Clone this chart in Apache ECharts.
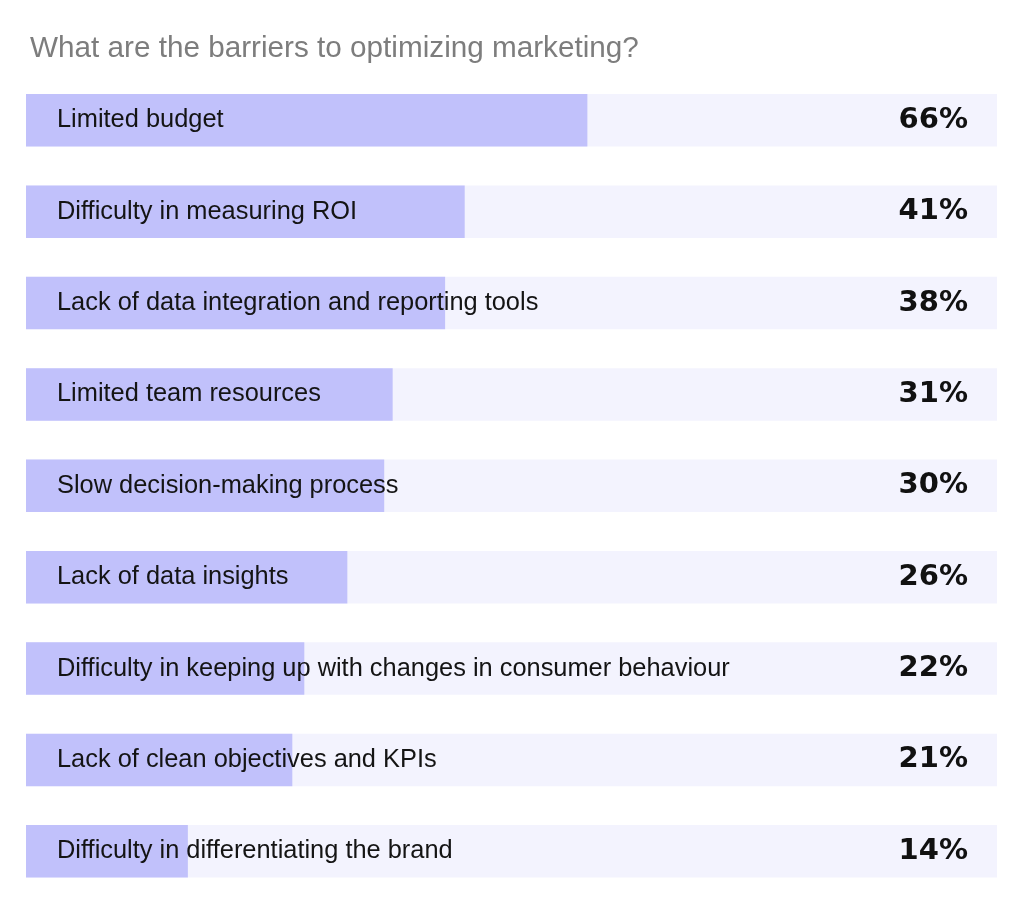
<!DOCTYPE html>
<html>
<head>
<meta charset="utf-8">
<script src="https://cdn.jsdelivr.net/npm/echarts@6/dist/echarts.min.js"></script>
<style>html,body{margin:0;padding:0;background:#fff;}#c{width:1023px;height:911px;}</style>
</head>
<body>
<div id="c"></div>
<script>
const titleText = 'What are the barriers to optimizing marketing?';
const categories = [
  'Limited budget',
  'Difficulty in measuring ROI',
  'Lack of data integration and reporting tools',
  'Limited team resources',
  'Slow decision-making process',
  'Lack of data insights',
  'Difficulty in keeping up with changes in consumer behaviour',
  'Lack of clean objectives and KPIs',
  'Difficulty in differentiating the brand'
];
const values = [66, 41, 38, 31, 30, 26, 22, 21, 14];
const valueLabels = values.map(v => v + '%');

const chart = echarts.init(document.getElementById('c'), null, {renderer: 'canvas'});
chart.setOption({
  animation: false,
  backgroundColor: '#ffffff',
  title: {
    text: titleText,
    left: 25,
    top: 29,
    textStyle: {fontFamily: 'Liberation Sans', fontSize: 29.7, fontWeight: 'normal', color: '#7d7d7d'}
  },
  grid: {left: 26, right: 26, top: 74.6, bottom: 14, containLabel: false},
  xAxis: {
    type: 'log',
    logBase: 10,
    min: 7.47,
    max: 323.6,
    show: false
  },
  yAxis: [
    {
      type: 'category',
      data: categories,
      inverse: true,
      z: 10,
      axisLine: {show: false},
      axisTick: {show: false},
      splitLine: {show: false},
      axisLabel: {
        inside: true,
        margin: 31,
        fontFamily: 'Liberation Sans',
        fontSize: 25.4,
        color: '#141414',
        padding: [2, 0, 0, 0]
      }
    },
    {
      type: 'category',
      data: valueLabels,
      inverse: true,
      position: 'right',
      z: 10,
      axisLine: {show: false},
      axisTick: {show: false},
      splitLine: {show: false},
      axisLabel: {
        inside: true,
        margin: 29,
        fontFamily: 'DejaVu Sans',
        fontWeight: 'bold',
        fontSize: 29,
        color: '#111111'
      }
    }
  ],
  series: [{
    type: 'bar',
    yAxisIndex: 0,
    data: values,
    barWidth: 52.5,
    clip: true,
    itemStyle: {color: '#c1c1fb'},
    showBackground: true,
    backgroundStyle: {color: '#f3f3fe'}
  }]
});
</script>
</body>
</html>
